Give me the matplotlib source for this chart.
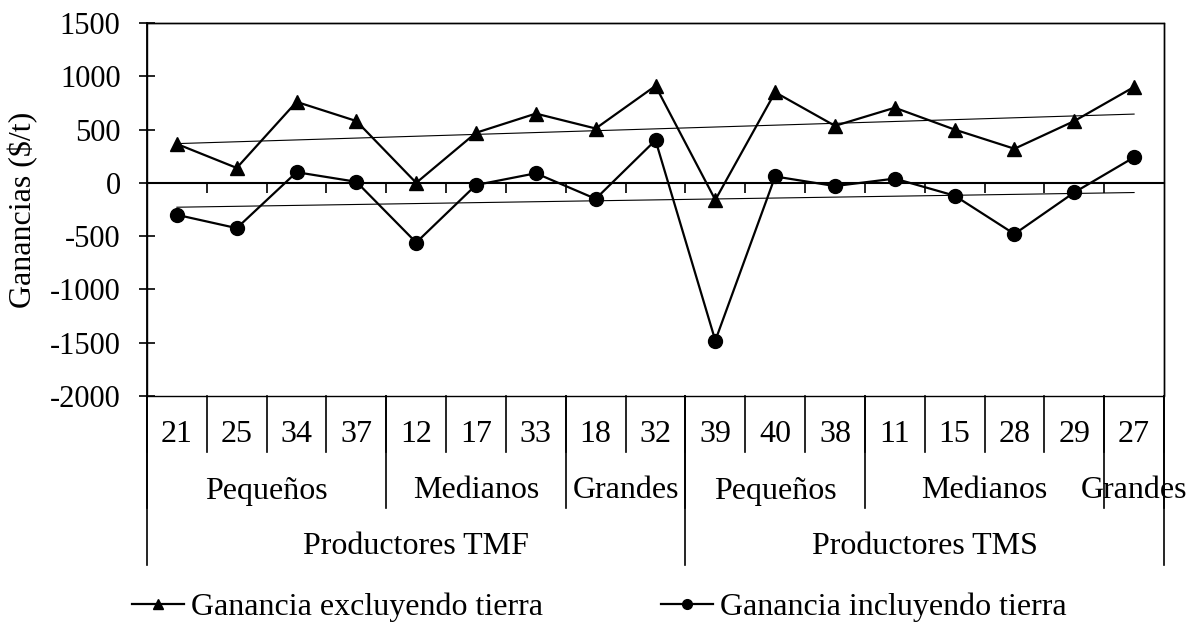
import numpy as np
import matplotlib
matplotlib.use("Agg")
import matplotlib.pyplot as plt
from matplotlib.patches import Rectangle

plt.rcParams['font.family'] = ['Liberation Serif', 'DejaVu Serif']
plt.rcParams['axes.unicode_minus'] = False

# ---------------- data ----------------
producer_ids = ['21', '25', '34', '37', '12', '17', '33', '18', '32',
                '39', '40', '38', '11', '15', '28', '29', '27']
size_groups = ['Pequeños', 'Medianos', 'Grandes', 'Pequeños', 'Medianos', 'Grandes']
size_group_counts = [4, 3, 2, 3, 4, 1]
producer_groups = ['Productores TMF', 'Productores TMS']
producer_group_counts = [9, 8]

gan_excl_tierra = [365, 140, 760, 580, 0, 470, 650, 510, 910,
                   -160, 850, 535, 705, 500, 320, 580, 900]
gan_incl_tierra = [-300, -425, 100, 10, -560, -20, 90, -150, 400,
                   -1480, 60, -30, 40, -120, -480, -90, 240]

y_ticks = [-2000, -1500, -1000, -500, 0, 500, 1000, 1500]
y_label = 'Ganancias ($/t)'
legend_labels = ['Ganancia excluyendo tierra', 'Ganancia incluyendo tierra']

# ---------------- figure ----------------
W, H = 1194, 629
fig = plt.figure(figsize=(W / 100, H / 100), dpi=100)
L, R, T, B = 147, 1164, 23, 396
ax = fig.add_axes([L / W, 1 - B / H, (R - L) / W, (B - T) / H])

FS = 23
FS_TICK = 22
x = np.arange(len(producer_ids))

l1, = ax.plot(x, gan_excl_tierra, color='black', lw=1.6, marker='^', ms=10,
              clip_on=False, zorder=4)
l2, = ax.plot(x, gan_incl_tierra, color='black', lw=1.6, marker='o', ms=10,
              clip_on=False, zorder=4)

# linear trend lines
for s in (gan_excl_tierra, gan_incl_tierra):
    c = np.polyfit(x, s, 1)
    ax.plot([x[0], x[-1]], np.polyval(c, [x[0], x[-1]]), color='black', lw=0.8, zorder=3)

ax.set_xlim(-0.5, len(x) - 0.5)
ax.set_ylim(y_ticks[0], y_ticks[-1])
ax.set_yticks(y_ticks)
ax.set_yticklabels([str(v) for v in y_ticks], fontsize=FS_TICK)
ax.tick_params(axis='y', direction='inout', length=12, width=1.2, pad=13)

# category axis drawn at y = 0
for sp in ('top', 'right'):
    ax.spines[sp].set_linewidth(1.0)
ax.spines['left'].set_linewidth(1.3)
ax.spines['bottom'].set_position(('data', 0))
ax.spines['bottom'].set_linewidth(1.5)
ax.set_xticks(np.arange(0.5, len(x) - 0.5, 1.0))
ax.set_xticklabels([])
ax.tick_params(axis='x', direction='out', length=7, width=1.2)

# frame
ax.add_patch(Rectangle((0, 0), 1, 1, transform=ax.transAxes, fill=False,
                       lw=1.0, ec='black', clip_on=False, zorder=5))

ax.set_ylabel(y_label, fontsize=FS, labelpad=8)

# ---------------- multi-level category labels ----------------
trans = ax.get_xaxis_transform()
axh = B - T
def ay(py):
    return (B - py) / axh

row1_bot, row2_bot, row3_bot = ay(452), ay(508), ay(565)
lw_grid = 1.2

def vline(xpos, ybot):
    ax.plot([xpos, xpos], [0, ybot], transform=trans, color='black',
            lw=lw_grid, clip_on=False)

# level 1: producer ids
for i, lab in enumerate(producer_ids):
    ax.text(i, ay(434), lab, transform=trans, ha='center', va='center', fontsize=FS)
for k in range(len(x) + 1):
    vline(k - 0.5, row1_bot)

# level 2: size groups
start = 0
for g, n in zip(size_groups, size_group_counts):
    ax.text(start + (n - 1) / 2, ay(491), g, transform=trans, ha='center',
            va='center', fontsize=FS)
    vline(start - 0.5, row2_bot)
    start += n
vline(start - 0.5, row2_bot)

# level 3: producer type
start = 0
for g, n in zip(producer_groups, producer_group_counts):
    ax.text(start + (n - 1) / 2, ay(547), g, transform=trans, ha='center',
            va='center', fontsize=FS)
    vline(start - 0.5, row3_bot)
    start += n
vline(start - 0.5, row3_bot)

# ---------------- legend ----------------
leg = fig.legend([l1, l2], legend_labels, loc='center left',
                 bbox_to_anchor=(132 / W, 1 - 607 / H), ncol=2, frameon=False,
                 fontsize=FS, handlelength=1.63, handletextpad=0.22,
                 columnspacing=3.7, borderpad=0, borderaxespad=0, markerscale=0.7)

fig.savefig('out.png', dpi=100)
